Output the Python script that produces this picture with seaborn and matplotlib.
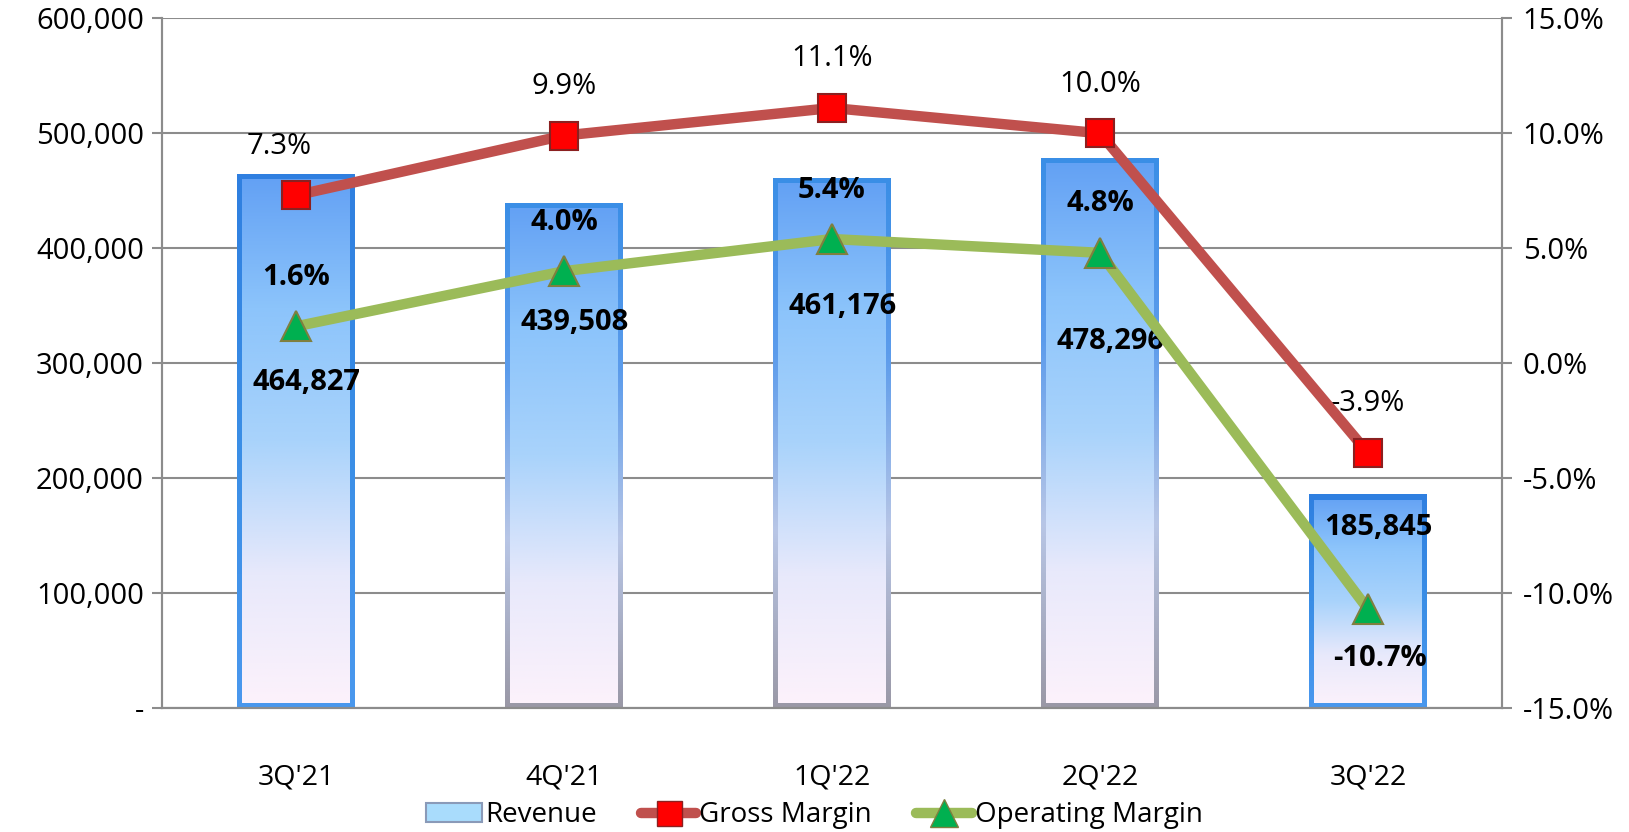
import numpy as np
import pandas as pd
import seaborn as sns
import matplotlib.pyplot as plt
from matplotlib.lines import Line2D
from matplotlib.patches import Patch, Rectangle
from matplotlib.colors import LinearSegmentedColormap

quarters = ["3Q'21", "4Q'21", "1Q'22", "2Q'22", "3Q'22"]
revenue = [464827, 439508, 461176, 478296, 185845]
gross_margin = [7.3, 9.9, 11.1, 10.0, -3.9]
operating_margin = [1.6, 4.0, 5.4, 4.8, -10.7]

# where the revenue numbers sit inside the bars (left axis units)
rev_label_y = [283000, 335000, 349000, 319000, 157000]

df = pd.DataFrame({'Quarter': quarters, 'Revenue': revenue,
                   'Gross Margin': gross_margin, 'Operating Margin': operating_margin})

sns.set_style("white")
plt.rcParams['font.family'] = ['Open Sans', 'DejaVu Sans']
plt.rcParams['text.color'] = 'black'

fig = plt.figure(figsize=(16.29, 8.32), dpi=100)
ax = fig.add_axes([0.0994, 0.149, 0.8226, 0.829])
ax2 = ax.twinx()

grid_c = '#8c8c8c'
fs = 21

sns.barplot(data=df, x='Quarter', y='Revenue', ax=ax, width=0.44,
            color='#a6d4fa', linewidth=0, zorder=3)

# gradient fill with a bevel-like border
inner = LinearSegmentedColormap.from_list('inner', ['#fdf2fb', '#e8e9fb', '#a9d3fb', '#8cc4fb', '#62a0f4'])
edge_blue = LinearSegmentedColormap.from_list('eb', ['#4a98ee', '#3a8ee6', '#2f7fe0'])
edge_grey = LinearSegmentedColormap.from_list('eg', ['#9a98a6', '#b8c6e6', '#5c9cec', '#3a8ee6'])
edge_maps = [edge_blue, edge_grey, edge_grey, edge_grey, edge_blue]
g = np.linspace(0, 1, 256).reshape(-1, 1)
for i, p in enumerate(ax.patches):
    x0, y0 = p.get_x(), p.get_y()
    w, h = p.get_width(), p.get_height()
    im = ax.imshow(g, cmap=edge_maps[i], origin='lower', aspect='auto',
                   extent=[x0, x0 + w, y0, y0 + h], zorder=2.5)
    im.set_clip_path(p)
    dx, dy = 0.02, 4500
    r = Rectangle((x0 + dx, y0 + dy), w - 2 * dx, h - 2 * dy, transform=ax.transData)
    im2 = ax.imshow(g, cmap=inner, origin='lower', aspect='auto',
                    extent=[x0, x0 + w, y0, y0 + h], zorder=2.6)
    im2.set_clip_path(r)
    p.set_facecolor('none')

ax.set_xlim(-0.5, 4.5)
ax.set_ylim(0, 600000)
ax.set_yticks(range(0, 600001, 100000))
ax.set_yticklabels(['-'] + [f"{v:,}" for v in range(100000, 600001, 100000)])
ax.yaxis.grid(True, color=grid_c, linewidth=1.5, zorder=0)
ax.set_axisbelow(True)
ax.set_xlabel('')
ax.set_ylabel('')

# lines on the right axis
sns.lineplot(x=range(len(quarters)), y=gross_margin, ax=ax2, color='#c0504d',
             linewidth=7.5, marker='s', markersize=20, markerfacecolor='#ff0000',
             markeredgecolor='#8b2020', markeredgewidth=1.5, zorder=5)
sns.lineplot(x=range(len(quarters)), y=operating_margin, ax=ax2, color='#9bbb59',
             linewidth=7.5, marker='^', markersize=22, markerfacecolor='#00b050',
             markeredgecolor='#7f7f3f', markeredgewidth=1.5, zorder=5)
ax2.set_ylim(-15, 15)
ax2.set_yticks(np.arange(-15, 15.1, 5))
ax2.set_yticklabels([f"{v:.1f}%" for v in np.arange(-15, 15.1, 5)])
ax2.set_xlim(-0.5, 4.5)

# data labels
gm_dx = [-17, 0, 0, 0, 0]
for i, v in enumerate(gross_margin):
    ax2.annotate(f"{v:.1f}%", (i, v), xytext=(gm_dx[i], 49), textcoords='offset pixels',
                 ha='center', va='center', fontsize=fs, color='black')
for i, v in enumerate(operating_margin):
    dy = -49 if v < 0 else 49
    dx = 12 if v < 0 else 0
    ax2.annotate(f"{v:.1f}%", (i, v), xytext=(dx, dy), textcoords='offset pixels',
                 ha='center', va='center', fontsize=fs, fontweight='bold', color='black')
for i, v in enumerate(revenue):
    ax.text(i + 0.04, rev_label_y[i], f"{v:,}", ha='center', va='center',
            fontsize=fs, fontweight='bold', color='black', zorder=6)

# axis styling
for a in (ax, ax2):
    for s in a.spines.values():
        s.set_color(grid_c)
        s.set_linewidth(1.5)
    a.spines['top'].set_visible(False)
    a.tick_params(axis='y', labelsize=fs, colors=grid_c, labelcolor='black',
                  direction='out', length=7, width=1.5)
ax.tick_params(axis='x', labelsize=fs - 0.5, labelcolor='black', length=0, pad=40)
ax.set_xticks(np.arange(-0.5, 4.6, 1), minor=True)
ax.tick_params(axis='x', which='minor', direction='out', length=8, width=1.5, colors=grid_c)
ax2.tick_params(axis='y', pad=8)
ax.tick_params(axis='y', pad=6)

handles = [
    Patch(facecolor='#a9dcfc', edgecolor='#8a9ab8', linewidth=1.5),
    Line2D([0], [0], color='#c0504d', linewidth=7.5, marker='s', markersize=18,
           markerfacecolor='#ff0000', markeredgecolor='#8b2020'),
    Line2D([0], [0], color='#9bbb59', linewidth=7.5, marker='^', markersize=20,
           markerfacecolor='#00b050', markeredgecolor='#7f7f3f'),
]
leg = fig.legend(handles, ['Revenue', 'Gross Margin', 'Operating Margin'], loc='center',
                 bbox_to_anchor=(0.5, 0.02), ncol=3, frameon=False, fontsize=fs - 1,
                 handlelength=2.0, handletextpad=0.1, columnspacing=1.6)
for t in leg.get_texts():
    t.set_color('black')

fig.savefig('out.png', dpi=100)
